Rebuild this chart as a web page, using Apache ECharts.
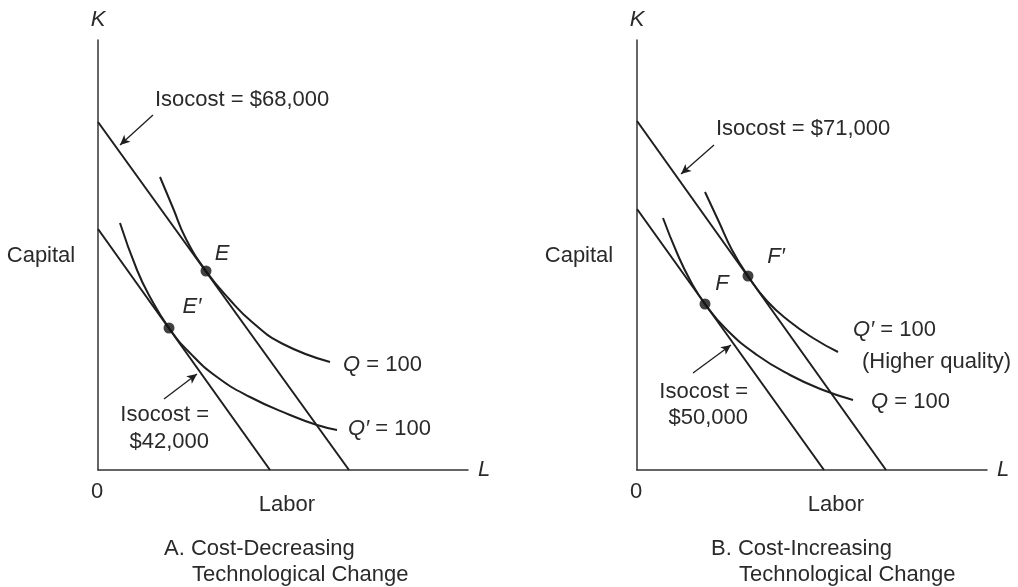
<!DOCTYPE html>
<html>
<head>
<meta charset="utf-8">
<script src="https://cdn.jsdelivr.net/npm/echarts@6/dist/echarts.min.js"></script>
<style>
html,body{margin:0;padding:0;background:#fff;}
#c{width:1018px;height:587px;}
</style>
</head>
<body>
<div id="c"></div>
<script>
// ---- Data (units: labor L on x, capital K on y) ----
// Panel A: cost-decreasing technological change
const isocost68 = [[0, 34.8], [25.1, 0]];
const isocost42 = [[0, 24.1], [17.2, 0]];
const isoquantQ_A = [[6.2, 29.3], [7.5, 26.2], [8.8, 23.1], [10.8, 19.9], [13.2, 17.0], [15.4, 14.8], [18.5, 12.6], [23.2, 10.8]];
const isoquantQprime_A = [[2.2, 24.7], [3.9, 20.0], [5.2, 17.3], [7.1, 14.2], [9.2, 11.7], [11.9, 9.3], [15.2, 7.3], [19.2, 5.5], [21.9, 4.5], [23.9, 4.0]];
const pointsA = [[10.8, 19.9], [7.1, 14.2]];           // E, E'
const arrowA_top = [[5.5, 35.5], [2.2, 32.5]];
const arrowA_bottom = [[6.6, 7.1], [9.9, 9.6]];

// Panel B: cost-increasing technological change
const isocost71 = [[0, 34.9], [24.9, 0]];
const isocost50 = [[0, 26.1], [18.7, 0]];
const isoquantQprime_B = [[6.8, 27.8], [8.2, 24.8], [9.5, 22.0], [11.1, 19.4], [13.0, 16.9], [15.2, 14.9], [17.6, 13.2], [20.1, 11.8]];
const isoquantQ_B = [[2.6, 25.2], [4.0, 21.7], [5.3, 19.0], [6.8, 16.6], [9.0, 14.0], [12.0, 11.5], [15.3, 9.5], [18.6, 8.0], [21.6, 7.0]];
const pointsB = [[11.1, 19.4], [6.8, 16.6]];           // F', F
const arrowB_top = [[7.7, 32.5], [4.4, 29.6]];
const arrowB_bottom = [[5.6, 9.7], [9.4, 12.5]];

// ---- Style ----
const INK = '#1e1e1e';
const TXT = '#2a2a2a';
const FAM = "'Liberation Sans', Arial, Helvetica, sans-serif";
const FS = 22;

function axisX(gi, max) {
  return {
    type: 'value', gridIndex: gi, min: 0, max: max,
    name: 'L', nameLocation: 'end', nameGap: 10,
    nameTextStyle: { fontFamily: FAM, fontSize: FS, fontStyle: 'italic', color: TXT, verticalAlign: 'middle' },
    axisLine: { show: true, onZero: false, lineStyle: { color: '#333', width: 1.5 } },
    axisTick: { show: false }, axisLabel: { show: false }, splitLine: { show: false }
  };
}
function axisY(gi, max) {
  return {
    type: 'value', gridIndex: gi, min: 0, max: max,
    name: 'K', nameLocation: 'end', nameGap: 9,
    nameTextStyle: { fontFamily: FAM, fontSize: FS, fontStyle: 'italic', color: TXT, align: 'center' },
    axisLine: { show: true, onZero: false, lineStyle: { color: '#333', width: 1.5 } },
    axisTick: { show: false }, axisLabel: { show: false }, splitLine: { show: false }
  };
}
function lineSeries(gi, data, smooth) {
  return {
    type: 'line', xAxisIndex: gi, yAxisIndex: gi, data: data,
    smooth: smooth ? 0.5 : false,
    showSymbol: false, symbol: 'none',
    lineStyle: { color: INK, width: 2 }, silent: true, z: 3
  };
}
function arrowSeries(gi, arr) {
  return {
    type: 'line', xAxisIndex: gi, yAxisIndex: gi, data: [], silent: true,
    markLine: {
      silent: true, symbol: ['none', 'arrow'], symbolSize: [7, 10],
      lineStyle: { color: INK, width: 1.3, type: 'solid' },
      label: { show: false },
      data: [[{ coord: arr[0] }, { coord: arr[1] }]],
      animation: false
    }
  };
}
function pointSeries(gi, data) {
  return {
    type: 'scatter', xAxisIndex: gi, yAxisIndex: gi, data: data,
    symbol: 'circle', symbolSize: 11, itemStyle: { color: '#111' }, silent: true, z: 5
  };
}
function txt(x, y, s, align, extra) {
  const st = Object.assign({
    text: s, x: x, y: y, font: FS + 'px ' + FAM, fill: TXT,
    textAlign: align || 'left', align: align || 'left',
    textVerticalAlign: 'middle', verticalAlign: 'middle'
  }, extra || {});
  return { type: 'text', silent: true, style: st };
}
const italicRich = { i: { fontStyle: 'italic', fontSize: FS, fontFamily: FAM, fill: TXT, color: TXT }, n: { fontSize: FS, fontFamily: FAM, fill: TXT, color: TXT } };
function rtxt(x, y, s) {
  return txt(x, y, s, 'left', { rich: italicRich });
}
const italicFont = 'italic ' + FS + 'px ' + FAM;

const chart = echarts.init(document.getElementById('c'), null, { renderer: 'canvas' });
chart.setOption({
  animation: false,
  backgroundColor: '#fff',
  grid: [
    { left: 98, top: 40, width: 370, height: 430 },
    { left: 637, top: 40, width: 350, height: 430 }
  ],
  xAxis: [axisX(0, 37), axisX(1, 35)],
  yAxis: [axisY(0, 43), axisY(1, 43)],
  series: [
    lineSeries(0, isocost68, false),
    lineSeries(0, isocost42, false),
    lineSeries(0, isoquantQ_A, true),
    lineSeries(0, isoquantQprime_A, true),
    pointSeries(0, pointsA),
    arrowSeries(0, arrowA_top),
    arrowSeries(0, arrowA_bottom),
    lineSeries(1, isocost71, false),
    lineSeries(1, isocost50, false),
    lineSeries(1, isoquantQprime_B, true),
    lineSeries(1, isoquantQ_B, true),
    pointSeries(1, pointsB),
    arrowSeries(1, arrowB_top),
    arrowSeries(1, arrowB_bottom)
  ],
  graphic: [
    // Panel A
    txt(41, 256, 'Capital', 'center'),
    txt(287, 505, 'Labor', 'center'),
    txt(97, 492, '0', 'center'),
    txt(155, 100, 'Isocost = $68,000', 'left'),
    txt(222, 254, 'E', 'center', { font: italicFont }),
    txt(192, 307, 'E\u2032', 'center', { font: italicFont }),
    rtxt(343, 365, '{i|Q}{n| = 100}'),
    rtxt(348, 429, '{i|Q\u2032}{n| = 100}'),
    txt(209, 415, 'Isocost =', 'right'),
    txt(209, 442, '$42,000', 'right'),
    txt(164, 549, 'A. Cost-Decreasing', 'left'),
    txt(192, 575, 'Technological Change', 'left'),
    // Panel B
    txt(579, 256, 'Capital', 'center'),
    txt(836, 505, 'Labor', 'center'),
    txt(636, 492, '0', 'center'),
    txt(716, 129, 'Isocost = $71,000', 'left'),
    txt(776, 257, 'F\u2032', 'center', { font: italicFont }),
    txt(722, 284, 'F', 'center', { font: italicFont }),
    rtxt(853, 330, '{i|Q\u2032}{n| = 100}'),
    txt(862, 362, '(Higher quality)', 'left'),
    rtxt(871, 402, '{i|Q}{n| = 100}'),
    txt(748, 392, 'Isocost =', 'right'),
    txt(748, 418, '$50,000', 'right'),
    txt(711, 549, 'B. Cost-Increasing', 'left'),
    txt(739, 575, 'Technological Change', 'left')
  ]
});
</script>
</body>
</html>
